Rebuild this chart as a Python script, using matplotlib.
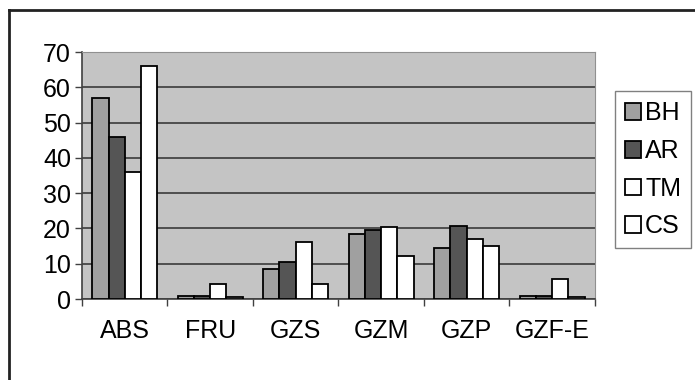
import matplotlib
matplotlib.use('Agg')
import matplotlib.pyplot as plt
import numpy as np

categories = ['ABS', 'FRU', 'GZS', 'GZM', 'GZP', 'GZF-E']
series = ['BH', 'AR', 'TM', 'CS']
BH = [57, 1, 8.5, 18.5, 14.5, 1]
AR = [46, 1, 10.5, 19.5, 20.7, 1]
TM = [36, 4.2, 16.2, 20.3, 17, 5.6]
CS = [66, 0.5, 4.2, 12.3, 15, 0.5]
colors = ['#a0a0a0', '#555555', 'white', 'white']

plt.rcParams['font.family'] = ['Liberation Sans', 'DejaVu Sans']

fig = plt.figure(figsize=(6.95, 3.8), dpi=100)
ax = fig.add_axes([0.118, 0.213, 0.738, 0.65])
ax.set_facecolor('#c4c4c4')

x = np.arange(len(categories))
w = 0.19
for i, (name, vals) in enumerate(zip(series, [BH, AR, TM, CS])):
    ax.bar(x + (i - 1.5) * w, vals, w, color=colors[i], edgecolor='black',
           linewidth=1.3, label=name, zorder=3)

ax.set_xlim(-0.5, len(categories) - 0.5)
ax.set_ylim(0, 70)
ax.set_yticks(range(0, 71, 10))
ax.yaxis.grid(True, color='#454545', linewidth=1.3, zorder=1)
ax.set_axisbelow(True)
ax.set_xticks(x)
ax.set_xticklabels(categories)
ax.set_xticks(np.arange(-0.5, len(categories)), minor=True)
ax.tick_params(axis='x', which='major', length=0, labelsize=18, pad=14)
ax.tick_params(axis='x', which='minor', length=5, width=1, color='#404040')
ax.tick_params(axis='y', length=5, width=1, color='#404040', labelsize=18, pad=3)
for s in ['top', 'right']:
    ax.spines[s].set_color('#909090')
for s in ['left', 'bottom']:
    ax.spines[s].set_color('#404040')
    ax.spines[s].set_linewidth(1.2)

leg = fig.legend(loc='upper left', bbox_to_anchor=(0.885, 0.76), fontsize=18,
                 handlelength=0.65, handleheight=0.65, handletextpad=0.15,
                 labelspacing=0.55, fancybox=False, edgecolor='#606060',
                 borderpad=0.4, borderaxespad=0)
leg.get_frame().set_linewidth(1)

# outer chart frame
fig.add_artist(plt.Line2D([0.013, 0.013], [0, 0.974], color='#222222', lw=2))
fig.add_artist(plt.Line2D([0.013, 1.0], [0.974, 0.974], color='#222222', lw=2))

fig.savefig('out.png', dpi=100)
